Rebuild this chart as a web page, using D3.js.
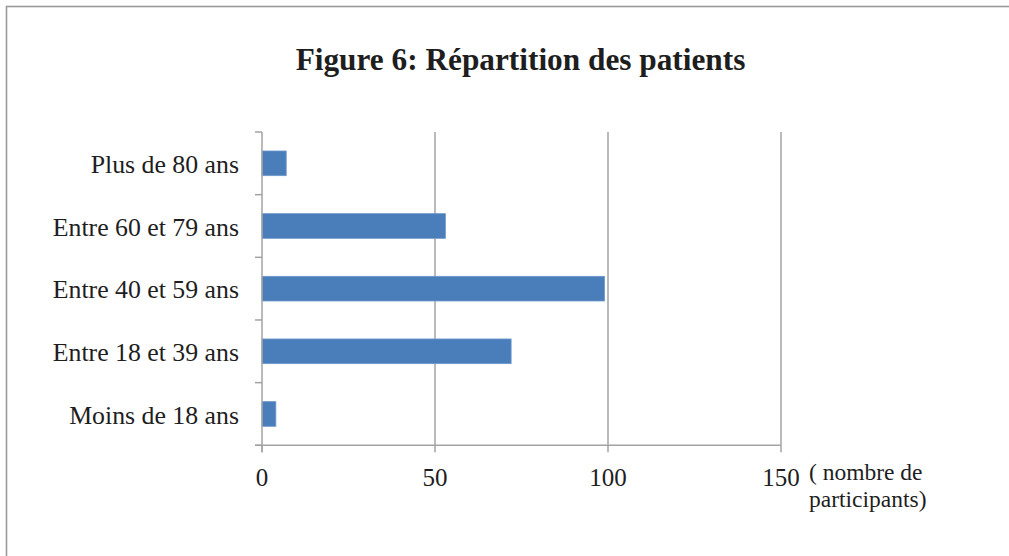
<!DOCTYPE html>
<html><head><meta charset="utf-8">
<script src="https://cdn.jsdelivr.net/npm/d3@7"></script>
<style>body{margin:0;background:#fff}svg{display:block}</style>
</head><body>
<script>
const categories = ["Moins de 18 ans","Entre 18 et 39 ans","Entre 40 et 59 ans","Entre 60 et 79 ans","Plus de 80 ans"];
const values = [4, 72, 99, 53, 7];
const xTicks = [0, 50, 100, 150];
const title = "Figure 6: Répartition des patients";
const axisTitle = ["( nombre de", "participants)"];

(function () {
const W = 1009, H = 556;
const svg = d3.select("body").append("svg").attr("width", W).attr("height", H);
const font = "'Liberation Serif','Times New Roman',serif";
const gray = "#a3a3a3";

svg.append("rect").attr("x", 6.5).attr("y", 6.5).attr("width", W + 10).attr("height", H + 10)
  .attr("fill", "none").attr("stroke", "#9a9a9a").attr("stroke-width", 1.6);

svg.append("text").attr("x", 520.5).attr("y", 70).attr("text-anchor", "middle")
  .attr("font-family", font).attr("font-weight", "bold").attr("font-size", 31.3)
  .attr("fill", "#1e1e1e").text(title);

const pL = 262, pR = 781, pT = 132, pB = 445.3;
const x = d3.scaleLinear().domain([0, 150]).range([pL, pR]);
const y = d3.scaleBand().domain(categories.slice().reverse()).range([pT, pB])
  .paddingInner(0.606).paddingOuter(0.303);
const step = y.step();

// gridlines
svg.append("g").selectAll("line").data(xTicks.filter(d => d > 0)).join("line")
  .attr("x1", d => x(d)).attr("x2", d => x(d)).attr("y1", pT).attr("y2", pB)
  .attr("stroke", gray).attr("stroke-width", 1.5);

// bars
svg.append("g").selectAll("rect").data(categories).join("rect")
  .attr("x", x(0)).attr("y", d => y(d))
  .attr("width", (d, i) => x(values[i]) - x(0)).attr("height", y.bandwidth())
  .attr("fill", "#4a7ebb").attr("stroke", "#6f98cc").attr("stroke-width", 0.8);

// y axis line and ticks
svg.append("line").attr("x1", pL).attr("x2", pL).attr("y1", pT).attr("y2", pB + 7)
  .attr("stroke", gray).attr("stroke-width", 1.5);
const bounds = [pT].concat(categories.slice().reverse().map(c => y(c) + y.bandwidth() / 2 + step / 2));
svg.append("g").selectAll("line").data(bounds).join("line")
  .attr("x1", pL - 7).attr("x2", pL).attr("y1", d => d).attr("y2", d => d)
  .attr("stroke", gray).attr("stroke-width", 1.5);

// x axis line and ticks
svg.append("line").attr("x1", pL - 7).attr("x2", pR).attr("y1", pB).attr("y2", pB)
  .attr("stroke", gray).attr("stroke-width", 1.5);
svg.append("g").selectAll("line").data(xTicks).join("line")
  .attr("x1", d => x(d)).attr("x2", d => x(d)).attr("y1", pB).attr("y2", pB + 7)
  .attr("stroke", gray).attr("stroke-width", 1.5);

// x tick labels
svg.append("g").selectAll("text").data(xTicks).join("text")
  .attr("x", d => x(d)).attr("y", 485.5).attr("text-anchor", "middle")
  .attr("font-family", font).attr("font-size", 25).attr("fill", "#1e1e1e").text(d => d);

// y labels
svg.append("g").selectAll("text").data(categories).join("text")
  .attr("x", 239).attr("y", d => y(d) + y.bandwidth() / 2).attr("dy", "0.37em")
  .attr("text-anchor", "end").attr("font-family", font).attr("font-size", 25.8)
  .attr("fill", "#1e1e1e").text(d => d);

// axis title
svg.append("g").selectAll("text").data(axisTitle).join("text")
  .attr("x", 809).attr("y", (d, i) => 479.5 + i * 27.5)
  .attr("font-family", font).attr("font-size", 23.5).attr("fill", "#1e1e1e").text(d => d);
})();
</script>
</body></html>
